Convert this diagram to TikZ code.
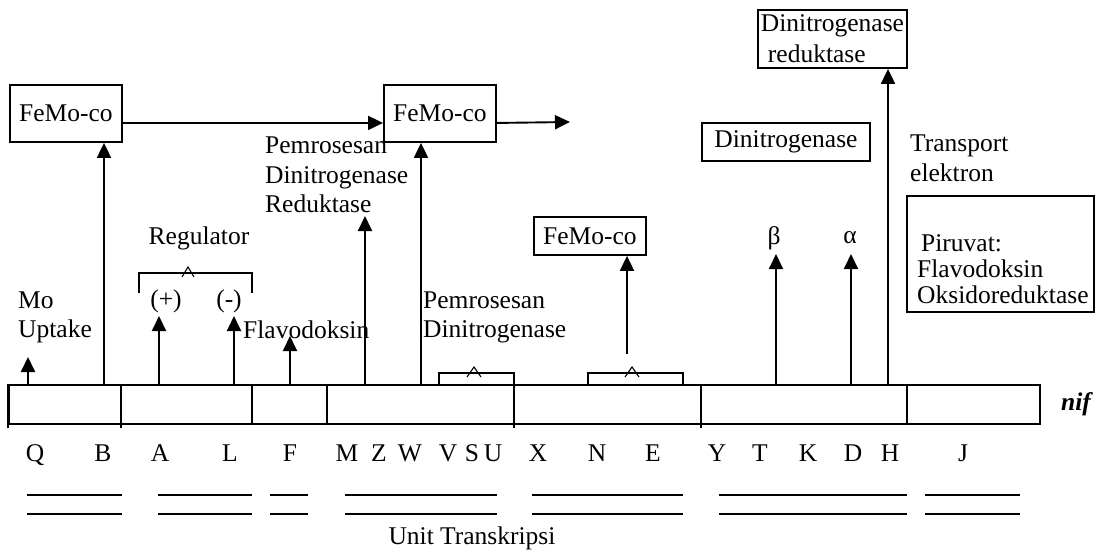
\documentclass[tikz,border=0pt]{standalone}
\usepackage{fontspec}
\setmainfont{Liberation Serif}
\usetikzlibrary{arrows.meta,calc}
\begin{document}
\begin{tikzpicture}[x=1pt,y=-1pt,
  every node/.style={font=\fontsize{25.5}{29}\selectfont, inner sep=0pt},
  box/.style={draw, line width=1.9pt, inner sep=0pt},
  ln/.style={line width=1.9pt},
  thin caret/.style={line width=1.1pt},
  arr/.style={line width=1.9pt, -{Triangle[length=15pt,width=14pt]}},
  txt/.style={anchor=west, align=left}
]
\useasboundingbox (0,0) rectangle (1099,551);

% boxes
\node[box, minimum width=149, minimum height=58, anchor=north west, align=left,
      font=\fontsize{25.5}{31}\selectfont] (dr) at (757,9) {Dinitrogenase\\\hspace*{7pt}reduktase};
\node[box, minimum width=112, minimum height=57, anchor=north west] (f1) at (9,84) {FeMo-co};
\node[box, minimum width=112, minimum height=57, anchor=north west] (f2) at (383,84) {FeMo-co};
\node[box, minimum width=168, minimum height=38, anchor=north west] (dn) at (701,122) {Dinitrogenase};
\node[box, minimum width=112, minimum height=38, anchor=north west] (f3) at (533,216) {FeMo-co};
\node[box, minimum width=187, minimum height=116, anchor=north west] (pv) at (906,195) {};
\node[txt, font=\fontsize{25.5}{26}\selectfont] (pvt) at (917,269) {\hspace*{4pt}Piruvat:\\Flavodoksin\\Oksidoreduktase};

% free texts
\node[txt, font=\fontsize{25.5}{30}\selectfont] (tr) at (910,158) {Transport\\elektron};
\node[txt, font=\fontsize{25.5}{29.5}\selectfont] (pdr) at (265,175) {Pemrosesan\\Dinitrogenase\\Reduktase};
\node (reg) at (199,238) {Regulator};
\node (beta) at (774,238) {β};
\node (alpha) at (850,238) {α};
\node (plus) at (166,301) {(+)};
\node (minus) at (229,301) {(-)};
\node[txt] (mo) at (18,317) {Mo\\Uptake};
\node[txt] (flav) at (243,330) {Flavodoksin};
\node[txt] (pd) at (423,317) {Pemrosesan\\Dinitrogenase};
\node[font=\fontsize{25.5}{29}\bfseries\itshape\selectfont] (nif) at (1076,404) {nif};
\node (unit) at (472,538) {Unit Transkripsi};

% top arrows
\coordinate (fend) at (570,122);
\draw[arr] ([yshift=-9.5pt]f1.east) -- ([yshift=-9.5pt]f2.west);
\draw[arr] ([yshift=-9.5pt]f2.east) -- (fend);

% brackets
\draw[ln] (139,293) -- (139,273) -- (252,273) -- (252,293);
\draw[thin caret] (182,277) -- (188,267) -- (194,277);
\draw[ln] (439,384) -- (439,373) -- (514,373) -- (514,384);
\draw[thin caret] (467,377) -- (474,367) -- (481,377);
\draw[ln] (588,384) -- (588,373) -- (683,373) -- (683,384);
\draw[thin caret] (625,377) -- (632,367) -- (639,377);

% bar
\node[box, minimum width=1031, minimum height=39, anchor=north west] (bar) at (8,384) {};
\foreach \x in {252,327,907} \draw[ln] (\x,384) -- (\x,423);
\foreach \x in {8,121,514,701} \draw[ln] (\x,384) -- (\x,428);

% arrow bases and tips
\coordinate (bMo) at (28,384);   \coordinate (tMo) at (28,357);
\coordinate (bB) at (104,384);
\coordinate (bA) at (159,384);   \coordinate (tA) at (159,316);
\coordinate (bL) at (234,384);   \coordinate (tL) at (234,316);
\coordinate (bF) at (290,384);   \coordinate (tF) at (290,336);
\coordinate (bM) at (365,384);   \coordinate (tM) at (365,216);
\coordinate (bW) at (421,384);
\coordinate (bNE) at (627,354);
\coordinate (bT) at (776,384);   \coordinate (tT) at (776,254);
\coordinate (bD) at (851,384);   \coordinate (tD) at (851,254);
\coordinate (bH) at (888,384);

\draw[arr] (bMo) -- (tMo);
\draw[arr] (bB) -- (bB |- f1.south);
\draw[arr] (bA) -- (tA);
\draw[arr] (bL) -- (tL);
\draw[arr] (bF) -- (tF);
\draw[arr] (bM) -- (tM);
\draw[arr] (bW) -- (bW |- f2.south);
\draw[arr] (bNE) -- (bNE |- f3.south);
\draw[arr] (bT) -- (tT);
\draw[arr] (bD) -- (tD);
\draw[arr] (bH) -- (bH |- dr.south);

% gene letters
\foreach \l/\x in {Q/35,B/103,A/160,L/230,F/290,M/347,Z/379,W/410,V/448,S/472,U/493,X/538,N/597,E/653,Y/717,T/760,K/808,D/853,H/890,J/963}
  \node[anchor=base] (g\l) at (\x,461) {\l};

% transcription units
\foreach \a/\b in {27/122,158/252,270/308,345/497,532/683,719/907,925/1020} {
  \draw[ln] (\a,495) -- (\b,495);
  \draw[ln] (\a,514) -- (\b,514);
}
\end{tikzpicture}
\end{document}
